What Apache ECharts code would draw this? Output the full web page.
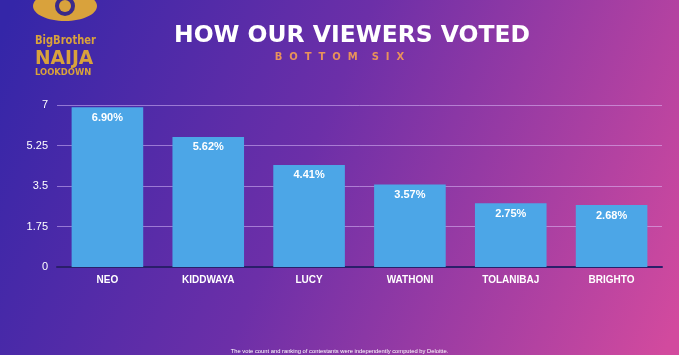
<!DOCTYPE html>
<html><head><meta charset="utf-8">
<script src="https://cdn.jsdelivr.net/npm/echarts@6/dist/echarts.min.js"></script>
<style>html,body{margin:0;padding:0;}#c{width:679px;height:355px;}</style>
</head><body><div id="c"></div>
<script>
var categories = ['NEO', 'KIDDWAYA', 'LUCY', 'WATHONI', 'TOLANIBAJ', 'BRIGHTO'];
var votes = [6.90, 5.62, 4.41, 3.57, 2.75, 2.68];
var yTicks = [0, 1.75, 3.5, 5.25, 7];
var titleText = 'HOW OUR VIEWERS VOTED';
var subtitleText = 'B  O  T  T  O  M    S  I  X';
var footerText = 'The vote count and ranking of contestants were independently computed by Deloitte.';

var chart = echarts.init(document.getElementById('c'));
var gold = '#d9a23c';
chart.setOption({
  backgroundColor: new echarts.graphic.LinearGradient(0, 0.1, 1, 0.9, [
    {offset: 0, color: '#3426a8'},
    {offset: 0.45, color: '#6c2fa8'},
    {offset: 1, color: '#d24a9e'}
  ]),
  animation: false,
  grid: {left: 57, right: 17, top: 105, bottom: 88},
  xAxis: {
    type: 'category', data: categories,
    axisTick: {show: false},
    axisLine: {lineStyle: {color: '#2a1f6a', width: 2}},
    axisLabel: {color: '#ffffff', fontWeight: 'bold', fontSize: 10, fontFamily: 'Liberation Sans', margin: 8}
  },
  yAxis: {
    type: 'value', min: yTicks[0], max: yTicks[yTicks.length - 1], interval: yTicks[1],
    axisLine: {show: false}, axisTick: {show: false},
    axisLabel: {color: '#ffffff', fontSize: 11, fontFamily: 'Liberation Sans', margin: 9,
      formatter: function (v) { return String(v); }},
    splitLine: {lineStyle: {color: 'rgba(225,200,255,0.5)', width: 1}}
  },
  series: [{
    type: 'bar', data: votes, barCategoryGap: '29%',
    itemStyle: {color: '#4ca6e7'},
    label: {show: true, position: 'insideTop', distance: 5, color: '#ffffff', fontWeight: 'bold',
      fontSize: 11, fontFamily: 'Liberation Sans',
      formatter: function (p) { return p.value.toFixed(2) + '%'; }}
  }],
  graphic: [
    {type: 'text', left: 174, top: 25, style: {text: titleText, fill: '#ffffff', font: 'bold 23px "DejaVu Sans"'}, scaleX: 1.02},
    {type: 'text', left: 'center', top: 52, style: {text: subtitleText, fill: '#e8925a', font: 'bold 10px "DejaVu Sans"'}},
    {type: 'text', left: 'center', top: 348, style: {text: footerText, fill: '#ffffff', font: '5.8px "Liberation Sans"'}},
    {type: 'ellipse', shape: {cx: 65, cy: 6, rx: 32, ry: 15}, style: {fill: gold}},
    {type: 'circle', shape: {cx: 65, cy: 6, r: 10}, style: {fill: '#3a2a8a'}},
    {type: 'circle', shape: {cx: 65, cy: 6, r: 6}, style: {fill: gold}},
    {type: 'text', left: 35, top: 34, style: {text: 'BigBrother', fill: gold, font: 'bold 13px "DejaVu Sans Condensed"'}, scaleX: 0.85},
    {type: 'text', left: 35, top: 49, style: {text: 'NAIJA', fill: gold, font: 'bold 18px "DejaVu Sans Condensed"'}, scaleX: 1.15, scaleY: 1.1},
    {type: 'text', left: 35, top: 69, style: {text: 'LOOKDOWN', fill: gold, font: 'bold 8px "DejaVu Sans"'}, scaleX: 1.05}
  ]
});
</script></body></html>
